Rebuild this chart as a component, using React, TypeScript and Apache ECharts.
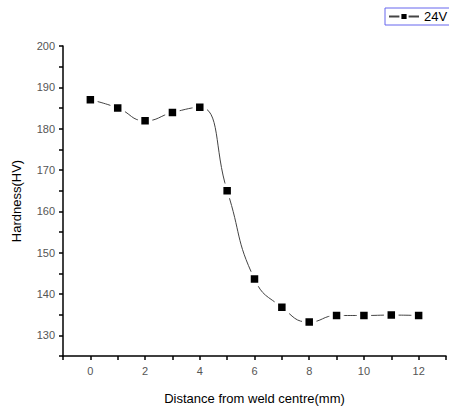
import React, { useEffect, useRef } from "react";
import * as echarts from "echarts";

const distances = [0, 1, 2, 3, 4, 5, 6, 7, 8, 9, 10, 11, 12];
const hardness24V = [187.0, 185.0, 181.9, 183.9, 185.2, 165.0, 143.6, 136.8, 133.2, 134.8, 134.8, 134.9, 134.8];
const seriesName = "24V";
const xTitle = "Distance from weld centre(mm)";
const yTitle = "Hardness(HV)";

const FONT = "'Liberation Sans', Arial, sans-serif";

export default function App() {
  const ref = useRef<HTMLDivElement>(null);
  useEffect(() => {
    if (!ref.current) return;
    const chart = echarts.init(ref.current, undefined, { renderer: "svg" });
    chart.setOption({
      animation: false,
      backgroundColor: "#ffffff",
      textStyle: { fontFamily: FONT },
      grid: { left: 63, top: 46, right: -6, bottom: 47 },
      legend: {
        left: 385,
        top: 8,
        padding: [2, 10, 2, 3],
        borderColor: "#6666ee",
        borderWidth: 1,
        itemWidth: 30,
        itemHeight: 9,
        itemGap: 4,
        textStyle: { fontFamily: FONT, fontSize: 13, color: "#000" },
        data: [seriesName],
      },
      xAxis: {
        type: "value",
        min: -1,
        max: 13,
        interval: 1,
        name: xTitle,
        nameLocation: "middle",
        nameGap: 36,
        nameTextStyle: { fontFamily: FONT, fontSize: 13, color: "#000" },
        axisLine: { show: true, onZero: false, lineStyle: { color: "#000", width: 1.5 } },
        axisTick: { show: true, inside: false, length: 4, lineStyle: { color: "#000", width: 1.5 } },
        axisLabel: {
          margin: 9,
          fontFamily: FONT,
          fontSize: 11,
          color: "#555",
          formatter: (v: number) => (v >= 0 && v <= 12 && v % 2 === 0 ? String(v) : ""),
        },
        splitLine: { show: false },
      },
      yAxis: {
        type: "value",
        min: 125,
        max: 200,
        interval: 5,
        name: yTitle,
        nameLocation: "middle",
        nameGap: 40,
        nameTextStyle: { fontFamily: FONT, fontSize: 13, color: "#000" },
        axisLine: { show: true, onZero: false, lineStyle: { color: "#000", width: 1.5 } },
        axisTick: { show: true, inside: false, length: 4, lineStyle: { color: "#000", width: 1.5 } },
        axisLabel: {
          margin: 8,
          fontFamily: FONT,
          fontSize: 11,
          color: "#555",
          formatter: (v: number) => (v % 10 === 0 ? String(v) : ""),
        },
        splitLine: { show: false },
      },
      series: [
        {
          name: seriesName,
          type: "line",
          data: distances.map((d, i) => [d, hardness24V[i]]),
          smooth: 0.5,
          symbol: "rect",
          symbolSize: 11,
          itemStyle: { color: "#000", borderColor: "#fff", borderWidth: 3.5 },
          lineStyle: { color: "#444", width: 1 },
          z: 3,
        },
      ],
    });
    return () => chart.dispose();
  }, []);
  return (
    <div
      ref={ref}
      style={{ position: "absolute", left: 0, top: 0, width: 449, height: 410 }}
    />
  );
}
